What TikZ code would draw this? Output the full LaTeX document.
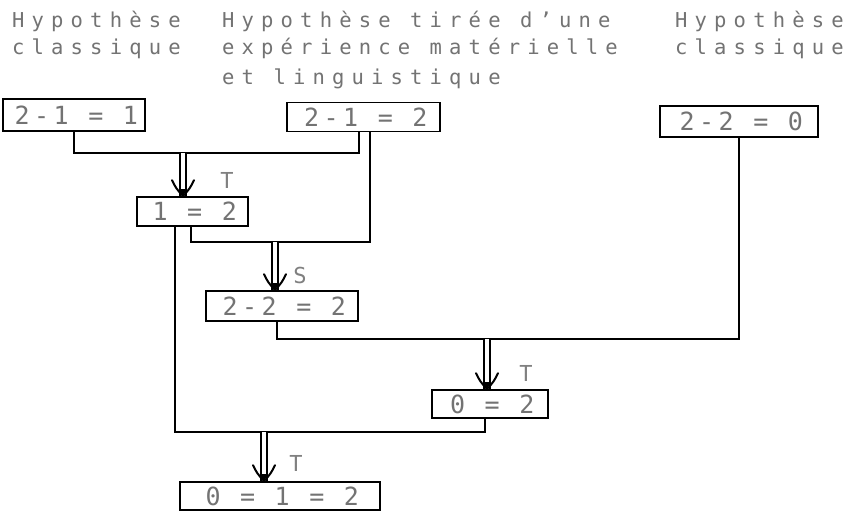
\documentclass[tikz,border=0pt]{standalone}
\usepackage{fontspec}
\usetikzlibrary{arrows.meta,decorations.markings}
\newfontfamily\headfont[LetterSpace=35]{DejaVu Sans Mono}
\newfontfamily\eqfont[LetterSpace=18]{DejaVu Sans Mono}

\tikzset{
  txt/.style={font=\headfont\fontsize{20.5}{24}\selectfont, text=black!55, inner sep=0pt},
  eqbox/.style={font=\eqfont\fontsize{25}{28}\selectfont, text=black!55, inner sep=0pt,
    draw=black, line width=1.6pt, execute at begin node={\kern4.5pt}},
  wire/.style={line width=1.6pt},
  infer/.style={line width=1.5pt, double, double distance=4.5pt,
    decoration={markings, mark=at position 1 with {
      \fill[black] (0,0) -- (-7pt,3.8pt) -- (-7pt,-3.8pt) -- cycle;
      \draw[black, line width=2pt, line cap=round]
        (-16pt,11pt) .. controls (-8pt,7pt) .. (0,0) .. controls (-8pt,-7pt) .. (-16pt,-11pt);
    }},
    postaction=decorate},
  rulelbl/.style={font=\headfont\fontsize{22}{24}\selectfont, text=black!50, inner sep=0pt},
}

\begin{document}
\begin{tikzpicture}[x=1pt,y=-1pt]
\useasboundingbox[fill=white] (0,0) rectangle (853,516);

% column headings
\node[txt, anchor=base west] (h1a) at (12,28) {Hypothèse};
\node[txt, anchor=base west] (h1b) at (12,55) {classique};
\node[txt, anchor=base west] (h2a) at (222,28) {Hypothèse tirée d’une};
\node[txt, anchor=base west] (h2b) at (222,55) {expérience matérielle};
\node[txt, anchor=base west] (h2c) at (222,85) {et linguistique};
\node[txt, anchor=base west] (h3a) at (675,28) {Hypothèse};
\node[txt, anchor=base west] (h3b) at (675,55) {classique};

% equations
\node[eqbox, minimum width=142pt, minimum height=32pt] (A) at (74,115) {2-1 = 1};
\node[eqbox, minimum width=153pt, minimum height=29pt] (B) at (363.5,117) {2-1 = 2};
\node[eqbox, minimum width=158pt, minimum height=31pt] (C) at (739,121.5) {2-2 = 0};
\node[eqbox, minimum width=111pt, minimum height=29pt] (D) at (192.5,211.5) {1 = 2};
\node[eqbox, minimum width=152pt, minimum height=30pt] (E) at (282,306) {2-2 = 2};
\node[eqbox, minimum width=116pt, minimum height=28pt] (F) at (490,404) {0 = 2};
\node[eqbox, minimum width=200pt, minimum height=28pt] (G) at (280,496) {0 = 1 = 2};

% junctions where premises meet
\coordinate (j1) at (183,153);
\coordinate (j2) at (275,242);
\coordinate (j3) at (487,339);
\coordinate (j4) at (264,432);

% premise lines
\draw[wire] (A.south) |- (j1) -| ([xshift=-4.5pt]B.south);
\draw[wire] ([xshift=6.5pt]B.south) |- (j2) -| ([xshift=-1.5pt]D.south);
\draw[wire] ([xshift=-5pt]E.south) |- (j3) -| (C.south);
\draw[wire] ([xshift=-17.5pt]D.south) |- (j4) -| ([xshift=-5pt]F.south);

% inference arrows
\draw[infer] (j1) -- (j1 |- D.north);
\draw[infer] (j2) -- (j2 |- E.north);
\draw[infer] (j3) -- (j3 |- F.north);
\draw[infer] (j4) -- (j4 |- G.north);

% rule labels
\node[rulelbl] (t1) at (227,180) {T};
\node[rulelbl] (s1) at (300,275) {S};
\node[rulelbl] (t2) at (526,373) {T};
\node[rulelbl] (t3) at (296,463) {T};
\end{tikzpicture}
\end{document}
